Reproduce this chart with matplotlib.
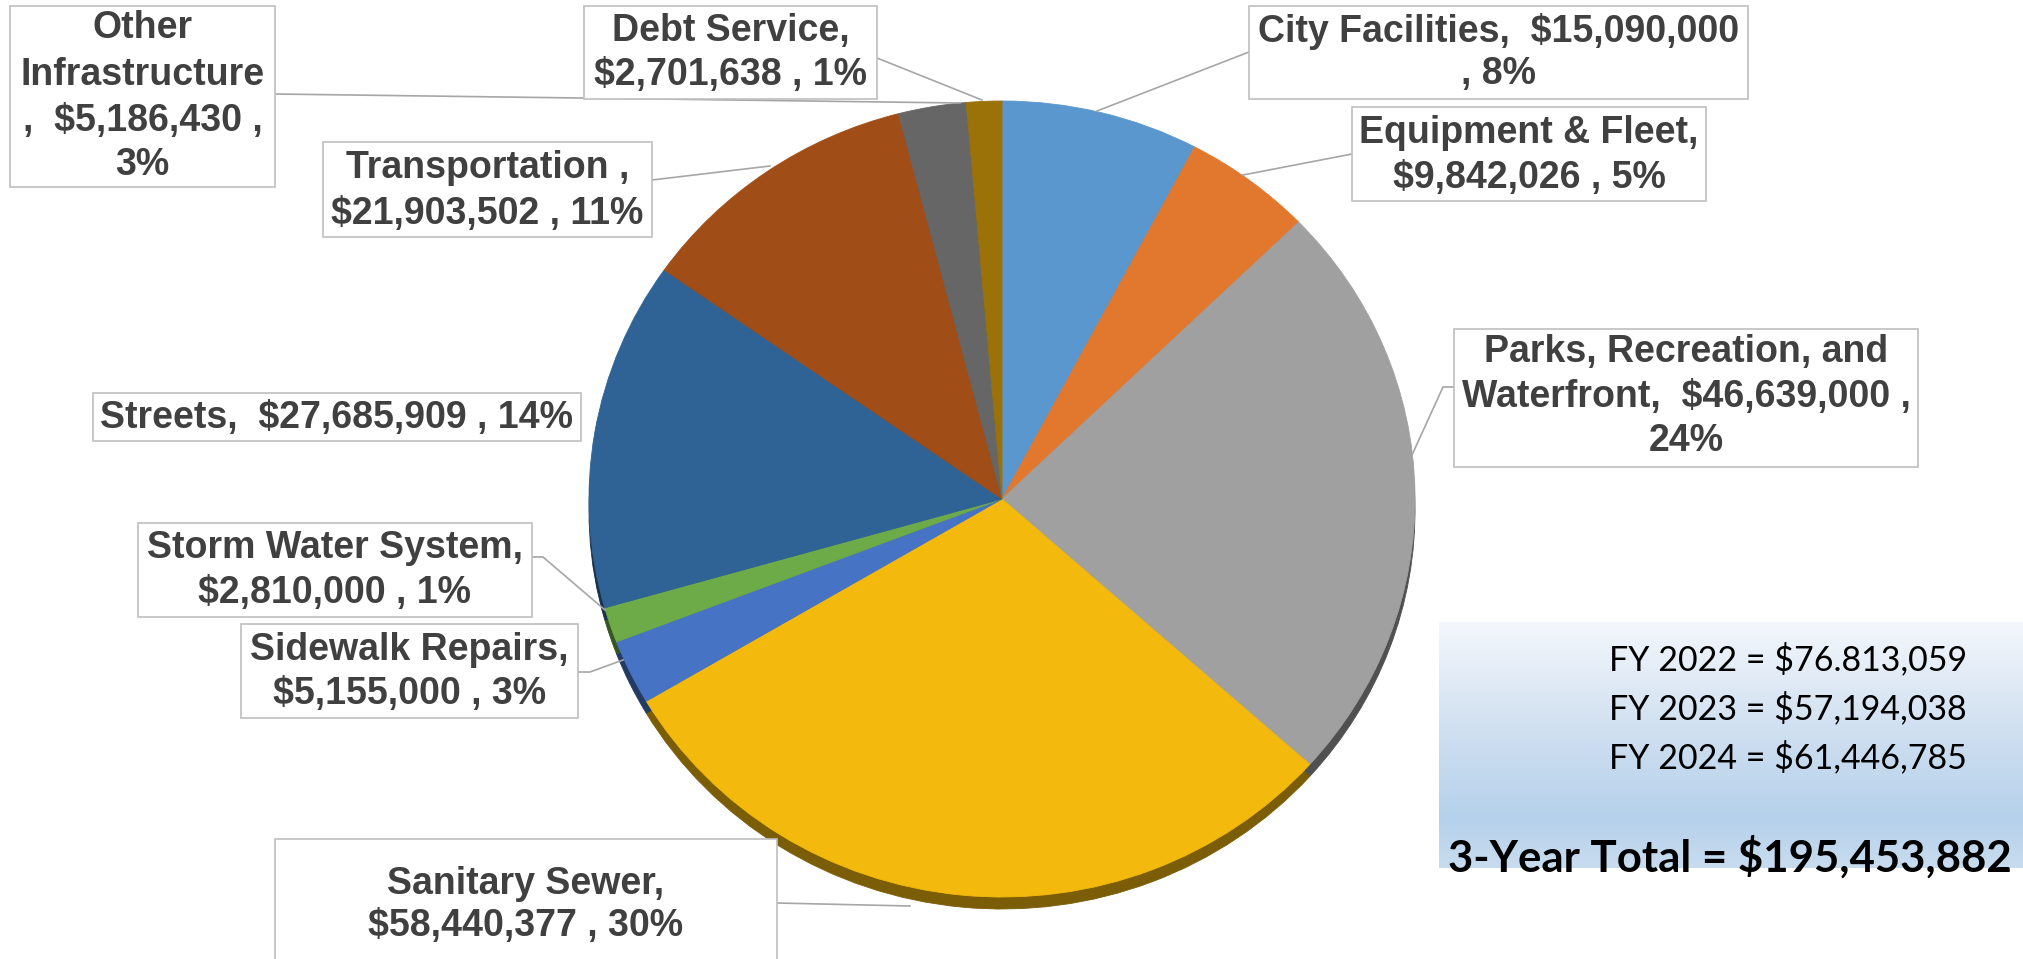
import matplotlib
matplotlib.use('Agg')
import matplotlib.pyplot as plt
import numpy as np
from matplotlib.patches import Rectangle
from matplotlib.colors import to_rgb

# ---------------- data ----------------
categories = ["City Facilities", "Equipment & Fleet", "Parks, Recreation, and Waterfront",
              "Sanitary Sewer", "Sidewalk Repairs", "Storm Water System", "Streets",
              "Transportation", "Other Infrastructure", "Debt Service"]
values = [15090000, 9842026, 46639000, 58440377, 5155000, 2810000, 27685909,
          21903502, 5186430, 2701638]
label_texts = [
    "City Facilities,  $15,090,000\n, 8%",
    "Equipment & Fleet,\n$9,842,026 , 5%",
    "Parks, Recreation, and\nWaterfront,  $46,639,000 ,\n24%",
    "Sanitary Sewer,\n$58,440,377 , 30%",
    "Sidewalk Repairs,\n$5,155,000 , 3%",
    "Storm Water System,\n$2,810,000 , 1%",
    "Streets,  $27,685,909 , 14%",
    "Transportation ,\n$21,903,502 , 11%",
    "Other\nInfrastructure\n,  $5,186,430 ,\n3%",
    "Debt Service,\n$2,701,638 , 1%",
]
fy_labels = ["FY 2022 = $76.813,059", "FY 2023 = $57,194,038", "FY 2024 = $61,446,785"]
total_label = "3-Year Total = $195,453,882"

colors = ["#5A97CE", "#E2782E", "#A0A0A0", "#F3B90C", "#4673C4", "#6DAA48",
          "#2F6395", "#A04D17", "#666666", "#9B7208"]

# ---------------- layout (pixels) ----------------
W, H = 2023, 959
fig = plt.figure(figsize=(W / 100, H / 100), dpi=100)
fig.patch.set_facecolor("white")

cx, cy = 1002, 499
rx, ry = 413, 398
depth = 12
d = depth / ry
ax_h = (2 + d) * ry
ax = fig.add_axes([(cx - rx) / W, (H - (cy - ry) - ax_h) / H, 2 * rx / W, ax_h / H])

side_colors = [tuple(c * 0.5 for c in to_rgb(col)) for col in colors]
side_wedges, _ = ax.pie(values, colors=side_colors, startangle=90, counterclock=False,
                        radius=1, center=(0, -d), wedgeprops=dict(linewidth=0))
wedges, _ = ax.pie(values, colors=colors, startangle=90, counterclock=False, radius=1,
                   center=(0, 0), wedgeprops=dict(linewidth=0))
for w in list(wedges) + list(side_wedges):
    w.set_edgecolor(w.get_facecolor())
    w.set_linewidth(0.6)
ax.set_aspect('auto')
ax.set_xlim(-1, 1)
ax.set_ylim(-1 - d, 1)
ax.axis('off')

# overlay axes in pixel coordinates
ov = fig.add_axes([0, 0, 1, 1], zorder=5)
ov.set_xlim(0, W)
ov.set_ylim(H, 0)
ov.axis('off')

label_font = ['Liberation Sans Narrow', 'Liberation Sans', 'DejaVu Sans']
txt_color = "#404040"
box_edge = "#BFBFBF"
line_col = "#A6A6A6"

# boxes: (x0, y0, x1, y1) per category, in order of categories
boxes = [
    (1249, 6, 1748, 99),
    (1352, 107, 1706, 201),
    (1454, 329, 1918, 467),
    (275, 839, 777, 975),
    (241, 624, 578, 718),
    (138, 523, 532, 617),
    (93, 393, 581, 441),
    (323, 142, 652, 237),
    (10, 6, 275, 187),
    (584, 6, 877, 99),
]
text_y = [
    [31, 74],
    [133, 178],
    [352, 397, 441],
    [884, 926],
    [650, 694],
    [548, 593],
    [418],
    [168, 214],
    [28, 75, 121, 165],
    [31, 75],
]
leaders = [
    [(1249, 52), (1097, 111)],
    [(1352, 154), (1243, 175)],
    [(1454, 387), (1443, 387), (1412, 455)],
    [(777, 903), (910, 906)],
    [(578, 672), (590, 672), (623, 660)],
    [(532, 557), (543, 557), (605, 610)],
    None,
    [(652, 180), (770, 166)],
    [(275, 94), (960, 103)],
    [(877, 58), (982, 100)],
]

for txt, (x0, y0, x1, y1), ys, ld in zip(label_texts, boxes, text_y, leaders):
    ov.add_patch(Rectangle((x0, y0), x1 - x0, y1 - y0, facecolor="white",
                           edgecolor=box_edge, linewidth=1.2, zorder=3))
    for line, yy in zip(txt.split("\n"), ys):
        ov.text((x0 + x1) / 2, yy, line, ha="center", va="center", fontsize=27,
                fontweight="bold", color=txt_color, family=label_font, zorder=4)
    if ld is not None:
        xs, yls = zip(*ld)
        ov.plot(xs, yls, color=line_col, linewidth=1.2, zorder=2)

# info box with gradient
bx0, by0, bx1, by1 = 1439, 622, 2023, 868
stops = np.array([0.0, 0.45, 0.8, 1.0])
stop_cols = np.array([to_rgb("#F4F7FC"), to_rgb("#CFDFF0"), to_rgb("#B5D1EB"), to_rgb("#C8DCEF")])
t = np.linspace(0, 1, 256)
grad = np.stack([np.interp(t, stops, stop_cols[:, k]) for k in range(3)], axis=-1)
grad = np.repeat(grad[:, None, :], 2, axis=1)
ov.imshow(grad, extent=[bx0, bx1, by1, by0], aspect='auto', zorder=1, interpolation='bilinear')
ov.set_xlim(0, W)
ov.set_ylim(H, 0)

info_font = ['Lato', 'Open Sans', 'DejaVu Sans']
for line, yy in zip(fy_labels, [659, 708, 757]):
    ov.text(1967, yy, line, ha="right", va="center", fontsize=24.5, color="black",
            family=info_font, zorder=4)
ov.text(1730, 857, total_label, ha="center", va="center", fontsize=31.5, fontweight="bold",
        color="black", family=info_font, zorder=4)

fig.savefig("out.png", dpi=100)
